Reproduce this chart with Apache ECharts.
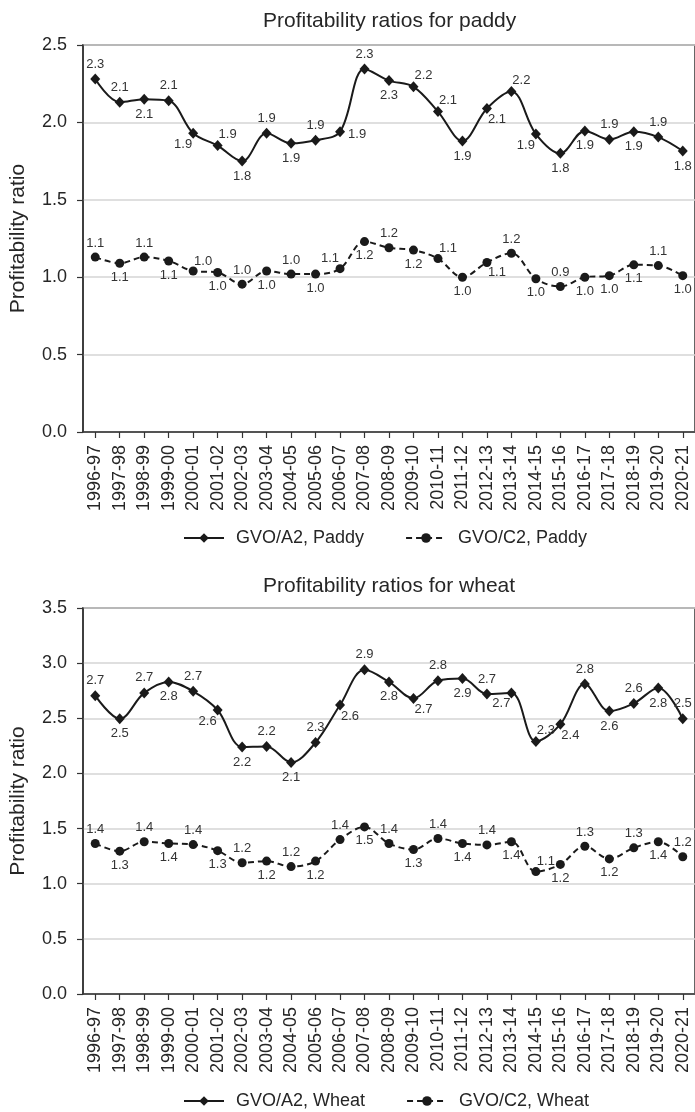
<!DOCTYPE html>
<html>
<head>
<meta charset="utf-8">
<script src="https://cdn.jsdelivr.net/npm/echarts@6/dist/echarts.min.js"></script>
<style>
html,body{margin:0;padding:0;background:#fff;}
#chart{width:695px;height:1112px;}
</style>
</head>
<body>
<div id="chart"></div>
<script>
const years = ['1996-97','1997-98','1998-99','1999-00','2000-01','2001-02','2002-03','2003-04','2004-05','2005-06','2006-07','2007-08','2008-09','2009-10','2010-11','2011-12','2012-13','2013-14','2014-15','2015-16','2016-17','2017-18','2018-19','2019-20','2020-21'];

const paddyA2 = [2.28,2.13,2.15,2.14,1.93,1.85,1.75,1.93,1.865,1.885,1.94,2.345,2.27,2.23,2.07,1.88,2.09,2.20,1.925,1.80,1.945,1.89,1.94,1.905,1.815];
const paddyC2 = [1.13,1.09,1.13,1.105,1.04,1.03,0.955,1.04,1.02,1.02,1.055,1.23,1.19,1.175,1.12,1.0,1.095,1.155,0.99,0.94,1.0,1.01,1.08,1.075,1.01];
const wheatA2 = [2.705,2.495,2.73,2.83,2.745,2.575,2.24,2.245,2.10,2.28,2.62,2.94,2.83,2.68,2.84,2.86,2.72,2.73,2.29,2.445,2.81,2.565,2.635,2.775,2.495];
const wheatC2 = [1.365,1.295,1.38,1.365,1.355,1.30,1.19,1.205,1.155,1.205,1.40,1.515,1.365,1.31,1.41,1.365,1.352,1.38,1.11,1.175,1.34,1.225,1.325,1.38,1.245];

// label placement codes (t=top, b=bottom, tr/tl/br/bl = diagonal, r=right)
const paddyA2Pos = ['t','t','b','t','bl','tr','b','t','b','t','r','t','b','tr','tr','b','br','tr','bl','b','b','t','b','t','b'];
const paddyC2Pos = ['t','b','t','b','tr','b','t','b','t','b','tl','b','t','b','tr','b','br','t','b','t','b','b','b','t','b'];
const wheatA2Pos = ['t','b','t','b','t','bl','b','t','b','t','br','t','b','br','t','b','t','bl','tr','br','t','b','t','b','t'];
const wheatC2Pos = ['t','b','t','b','t','b','t','b','t','b','t','b','t','b','t','b','t','b','tr','b','t','b','t','b','t'];

const posMap = {
  t:{position:'top',offset:[0,0]},
  b:{position:'bottom',offset:[0,0]},
  tr:{position:'top',offset:[10,4]},
  tl:{position:'top',offset:[-10,4]},
  br:{position:'bottom',offset:[10,-4]},
  bl:{position:'bottom',offset:[-10,-4]},
  r:{position:'right',offset:[0,3]},
  l:{position:'left',offset:[0,0]}
};

function mkData(vals, pos){
  return vals.map((v,i)=>({value:v,label:posMap[pos[i]]}));
}

const FONT = 'Liberation Sans, Arial, sans-serif';
const INK = '#1a1a1a';
const TXT = '#262626';

function xAxisCfg(gi){
  return {
    type:'category', gridIndex:gi, data:years, boundaryGap:true,
    axisLine:{show:true,lineStyle:{color:'#333',width:1.5}},
    axisTick:{show:true,alignWithLabel:true,length:6,lineStyle:{color:'#333',width:1.2}},
    axisLabel:{rotate:90,fontSize:18,color:TXT,fontFamily:FONT,margin:13,interval:0},
    splitLine:{show:false}
  };
}
function yAxisCfg(gi,max){
  return {
    type:'value', gridIndex:gi, min:0, max:max, interval:0.5,
    name:'Profitability ratio', nameLocation:'middle', nameGap:54,
    nameTextStyle:{fontSize:21,color:TXT,fontFamily:FONT},
    axisLine:{show:true,lineStyle:{color:'#333',width:1.5}},
    axisTick:{show:true,length:6,lineStyle:{color:'#333',width:1.2}},
    axisLabel:{fontSize:18,color:TXT,fontFamily:FONT,margin:16,formatter:v=>v.toFixed(1)},
    splitLine:{show:true,lineStyle:{color:'#d4d4d4',width:1.5}}
  };
}
function seriesCfg(name,gi,vals,pos,dashed){
  return {
    name:name, type:'line', xAxisIndex:gi, yAxisIndex:gi,
    data:mkData(vals,pos), smooth:0.35,
    symbol: dashed ? 'circle' : 'diamond',
    symbolSize: dashed ? 9 : [10,11],
    itemStyle:{color:INK},
    lineStyle:{color:INK,width:2,type: dashed ? [6,4] : 'solid'},
    label:{show:true,fontSize:13,color:'#333',fontFamily:FONT,distance:3,
      formatter:p=>Number(p.value).toFixed(1)},
    emphasis:{disabled:true},
    animation:false,
    z: dashed ? 3 : 4
  };
}

const chart = echarts.init(document.getElementById('chart'));
chart.setOption({
  backgroundColor:'#fff',
  animation:false,
  title:[
    {text:'Profitability ratios for paddy',left:263,top:11,padding:0,
     textStyle:{fontSize:21,fontWeight:'normal',color:TXT,fontFamily:FONT}},
    {text:'Profitability ratios for wheat',left:263,top:576,padding:0,
     textStyle:{fontSize:21,fontWeight:'normal',color:TXT,fontFamily:FONT}}
  ],
  legend:[
    {data:['GVO/A2, Paddy','GVO/C2, Paddy'],left:178,top:524,itemWidth:40,itemHeight:12,itemGap:41,
     textStyle:{fontSize:18,color:TXT,fontFamily:FONT,padding:[0,0,0,7]},selectedMode:false},
    {data:['GVO/A2, Wheat','GVO/C2, Wheat'],left:178,top:1087,itemWidth:40,itemHeight:12,itemGap:41,
     textStyle:{fontSize:18,color:TXT,fontFamily:FONT,padding:[0,0,0,7]},selectedMode:false}
  ],
  grid:[
    {left:78,right:-6,top:45,bottom:680,show:true,borderColor:'#333',borderWidth:1.5,backgroundColor:'transparent'},
    {left:78,right:-6,top:608,bottom:118,show:true,borderColor:'#333',borderWidth:1.5,backgroundColor:'transparent'}
  ],
  xAxis:[xAxisCfg(0),xAxisCfg(1)],
  yAxis:[yAxisCfg(0,2.5),yAxisCfg(1,3.5)],
  series:[
    seriesCfg('GVO/A2, Paddy',0,paddyA2,paddyA2Pos,false),
    seriesCfg('GVO/C2, Paddy',0,paddyC2,paddyC2Pos,true),
    seriesCfg('GVO/A2, Wheat',1,wheatA2,wheatA2Pos,false),
    seriesCfg('GVO/C2, Wheat',1,wheatC2,wheatC2Pos,true)
  ]
});
</script>
</body>
</html>
